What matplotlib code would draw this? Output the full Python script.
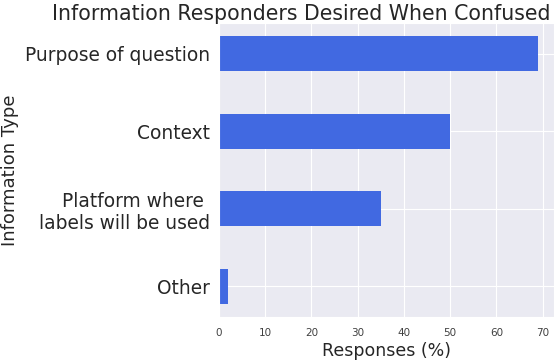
import matplotlib
matplotlib.use("Agg")
import matplotlib.pyplot as plt
import seaborn as sns

categories = ["Purpose of question", "Context", "Platform where \nlabels will be used", "Other"]
values = [69, 50, 35, 2]
xticks = [0, 10, 20, 30, 40, 50, 60, 70]

sns.set_style("darkgrid")
plt.rcParams['font.family'] = ['DejaVu Sans']

fig = plt.figure(figsize=(5.54, 3.6), dpi=100)
ax = fig.add_axes([0.395, 0.119, 0.605, 0.817])
ax.barh(categories, values, height=0.45, color="#4169E1", linewidth=0)
ax.invert_yaxis()
ax.set_xticks(xticks)
ax.tick_params(axis='x', labelsize=7.5, pad=4, labelcolor=".25")
ax.tick_params(axis='y', labelsize=13.4, pad=3)
ax.set_xlabel("Responses (%)", fontsize=12.5, color=".15", labelpad=3)
for lbl in ax.get_yticklabels():
    lbl.set_horizontalalignment('right')
fig.text(10/554, 0.5 * (0.119 + 0.936), "Information Type", rotation=90,
         ha='center', va='center', fontsize=13, color=".15")
fig.text(301/554, 1 - 20/360, "Information Responders Desired When Confused",
         ha='center', va='baseline', fontsize=14.8, color=".15")
fig.savefig("out.png", dpi=100)
